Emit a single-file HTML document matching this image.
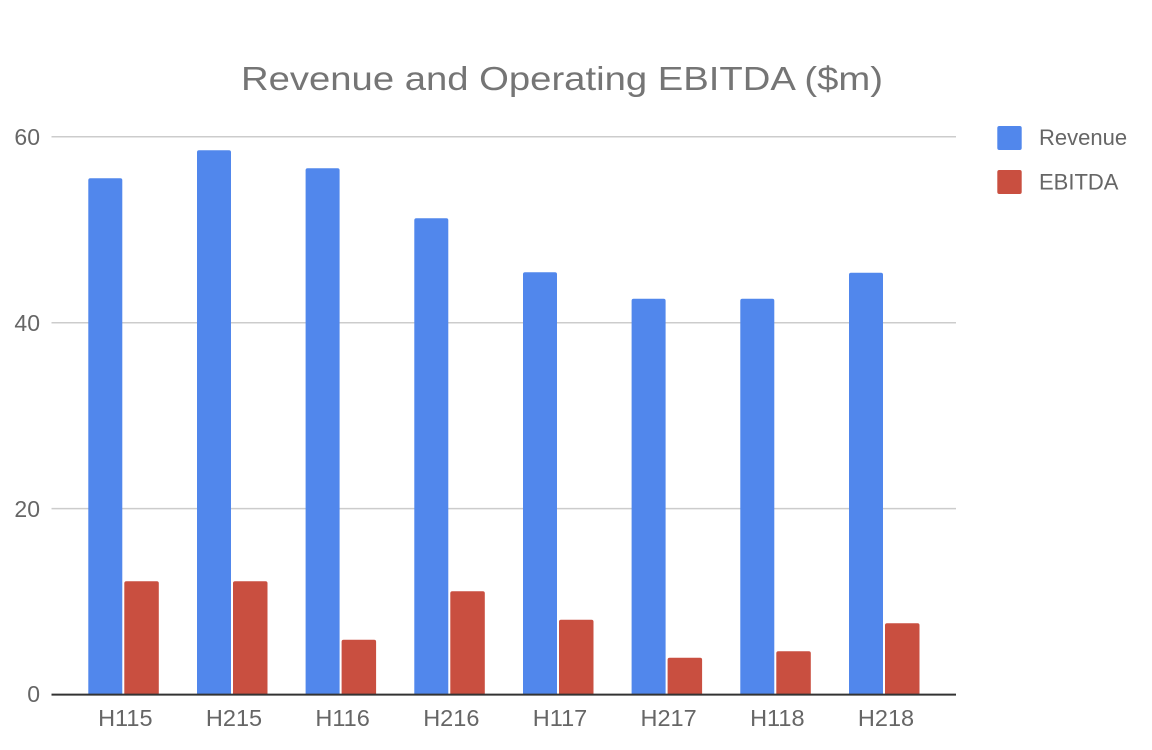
<!DOCTYPE html>
<html><head><meta charset="utf-8"><style>
html,body{margin:0;padding:0;background:#fff;}
svg{display:block;font-family:"Liberation Sans",Arial,sans-serif;}
</style></head><body>
<svg width="1152" height="750" viewBox="0 0 1152 750" xmlns="http://www.w3.org/2000/svg">
<rect width="1152" height="750" fill="#fff"/>
<text x="241" y="90" font-size="33.5" fill="#757575" textLength="642" lengthAdjust="spacingAndGlyphs">Revenue and Operating EBITDA ($m)</text>
<g stroke="#cccccc" stroke-width="1.5">
<line x1="51.5" y1="136.7" x2="956" y2="136.7"/>
<line x1="51.5" y1="322.8" x2="956" y2="322.8"/>
<line x1="51.5" y1="508.6" x2="956" y2="508.6"/>
</g>
<g font-size="23" fill="#666" text-anchor="end">
<text x="40" y="145">60</text>
<text x="40" y="331">40</text>
<text x="40" y="517">20</text>
<text x="40" y="702">0</text>
</g>
<defs>
<clipPath id="c"><rect x="0" y="0" width="1152" height="694.5"/></clipPath>
</defs>
<g clip-path="url(#c)">
<g fill="#5187ec">
<rect x="88.3" y="178.3" width="34" height="520" rx="2"/>
<rect x="197" y="150.3" width="34" height="548" rx="2"/>
<rect x="305.6" y="168.3" width="34" height="530" rx="2"/>
<rect x="414.3" y="218.3" width="34" height="480" rx="2"/>
<rect x="523" y="272.3" width="34" height="426" rx="2"/>
<rect x="631.6" y="298.7" width="34" height="400" rx="2"/>
<rect x="740.3" y="298.7" width="34" height="400" rx="2"/>
<rect x="849" y="272.7" width="34" height="426" rx="2"/>
</g>
<g fill="#c94f40">
<rect x="124.3" y="581.3" width="34.5" height="117" rx="2"/>
<rect x="233" y="581.3" width="34.5" height="117" rx="2"/>
<rect x="341.6" y="639.7" width="34.5" height="58" rx="2"/>
<rect x="450.3" y="591.3" width="34.5" height="107" rx="2"/>
<rect x="559" y="619.7" width="34.5" height="79" rx="2"/>
<rect x="667.6" y="657.7" width="34.5" height="41" rx="2"/>
<rect x="776.3" y="651.3" width="34.5" height="47" rx="2"/>
<rect x="885" y="623.3" width="34.5" height="75" rx="2"/>
</g>
</g>
<line x1="51.5" y1="694.6" x2="956" y2="694.6" stroke="#333" stroke-width="2"/>
<g font-size="23.5" fill="#666" text-anchor="middle">
<text x="125.3" y="726">H115</text>
<text x="234" y="726">H215</text>
<text x="342.6" y="726">H116</text>
<text x="451.3" y="726">H216</text>
<text x="560" y="726">H117</text>
<text x="668.6" y="726">H217</text>
<text x="777.3" y="726">H118</text>
<text x="886" y="726">H218</text>
</g>
<rect x="997.3" y="126" width="24.4" height="24" rx="2" fill="#5187ec"/>
<rect x="997.3" y="170" width="24.4" height="24" rx="2" fill="#c94f40"/>
<g font-size="22" fill="#666">
<text x="1039" y="145">Revenue</text>
<text x="1039" y="189.3">EBITDA</text>
</g>
</svg>
</body></html>
